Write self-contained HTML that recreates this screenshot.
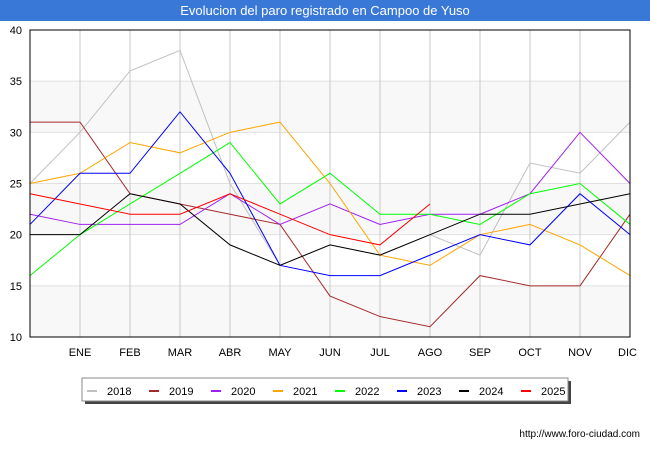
<!DOCTYPE html>
<html><head><meta charset="utf-8"><style>
body{margin:0;background:#fff;font-family:"Liberation Sans","DejaVu Sans",sans-serif}
svg{display:block}
</style></head><body>
<svg id="c" width="650" height="450" xmlns="http://www.w3.org/2000/svg">
<rect x="0" y="0" width="650" height="450" fill="#fff"/>
<rect x="0" y="0" width="650" height="21" fill="#3a78d8"/>
<text x="325" y="15" text-anchor="middle" font-size="13" fill="#fff">Evolucion del paro registrado en Campoo de Yuso</text>
<g id="grid"></g>
<g id="series"></g>
<rect x="30" y="30" width="600" height="307" fill="none" stroke="#000" stroke-width="1"/>
<g id="legend"></g>
<text x="640" y="437" text-anchor="end" font-size="10" fill="#000">http://www.foro-ciudad.com</text>
</svg>
<script>
const months=["","ENE","FEB","MAR","ABR","MAY","JUN","JUL","AGO","SEP","OCT","NOV","DIC"];
const yTicks=[10,15,20,25,30,35,40];
const years=["2018","2019","2020","2021","2022","2023","2024","2025"];
const colors=["#c0c0c0","#a52a2a","#a020f0","#ffa500","#00ff00","#0000ff","#000000","#ff0000"];
const s2018=[25,30,36,38,25,17,19,18,20,18,27,26,31];
const s2019=[31,31,24,23,22,21,14,12,11,16,15,15,22];
const s2020=[22,21,21,21,24,21,23,21,22,22,24,30,25];
const s2021=[25,26,29,28,30,31,25,18,17,20,21,19,16];
const s2022=[16,20,23,26,29,23,26,22,22,21,24,25,21];
const s2023=[21,26,26,32,26,17,16,16,18,20,19,24,20];
const s2024=[20,20,24,23,19,17,19,18,20,22,22,23,24];
const s2025=[24,23,22,22,24,22,20,19,23];
const seriesData=[s2018,s2019,s2020,s2021,s2022,s2023,s2024,s2025];
const NS="http://www.w3.org/2000/svg";
const X=i=>30+i*50, Y=v=>337-(v-10)*(307/30);
function mk(t,a,p){const e=document.createElementNS(NS,t);for(const k in a)e.setAttribute(k,a[k]);p.appendChild(e);return e;}
const g=document.getElementById('grid');
for(let i=0;i<yTicks.length-1;i+=2){
 const r=mk('rect',{x:30,y:Y(yTicks[i+1]),width:600,height:Y(yTicks[i])-Y(yTicks[i+1]),fill:'#f8f8f8'},g);
 
 
}
yTicks.forEach(v=>{
 const l=mk('line',{x1:30,x2:630,y1:Y(v),y2:Y(v),stroke:'#e0e0e0'},g);
 
 
 const t=mk('text',{x:22,y:Y(v)+4,'text-anchor':'end','font-size':11,fill:'#000'},g);
 t.textContent=v;
 
 
});
months.forEach((m,i)=>{
 if(i>0){
 const l=mk('line',{x1:X(i),x2:X(i),y1:30,y2:337,stroke:'#c8c8c8'},g);
 
 
 const t=mk('text',{x:X(i),y:356,'text-anchor':i==12?'end':'middle','font-size':11,fill:'#000'},g);
 if(i==12)t.setAttribute('x',637);
 t.textContent=m;
 
 
 }
});
const sg=document.getElementById('series');
seriesData.forEach((d,k)=>{
 const p=mk('polyline',{points:d.map((v,i)=>X(i)+','+Y(v)).join(' '),fill:'none',stroke:colors[k],'stroke-width':1},sg);
 
 
});
const lg=document.getElementById('legend');
mk('rect',{x:85,y:381,width:486,height:23,fill:'#444'},lg);
const box=mk('rect',{x:82,y:378,width:486,height:23,fill:'#fff',stroke:'#888'},lg);


years.forEach((yr,k)=>{
 const x0=87+k*62;
 const s=mk('line',{x1:x0,x2:x0+10,y1:391,y2:391,stroke:colors[k],'stroke-width':2},lg);
 
 
 const t=mk('text',{x:x0+20,y:395,'font-size':11,fill:'#000'},lg);
 t.textContent=yr;
 
 
});
</script>
</body></html>
